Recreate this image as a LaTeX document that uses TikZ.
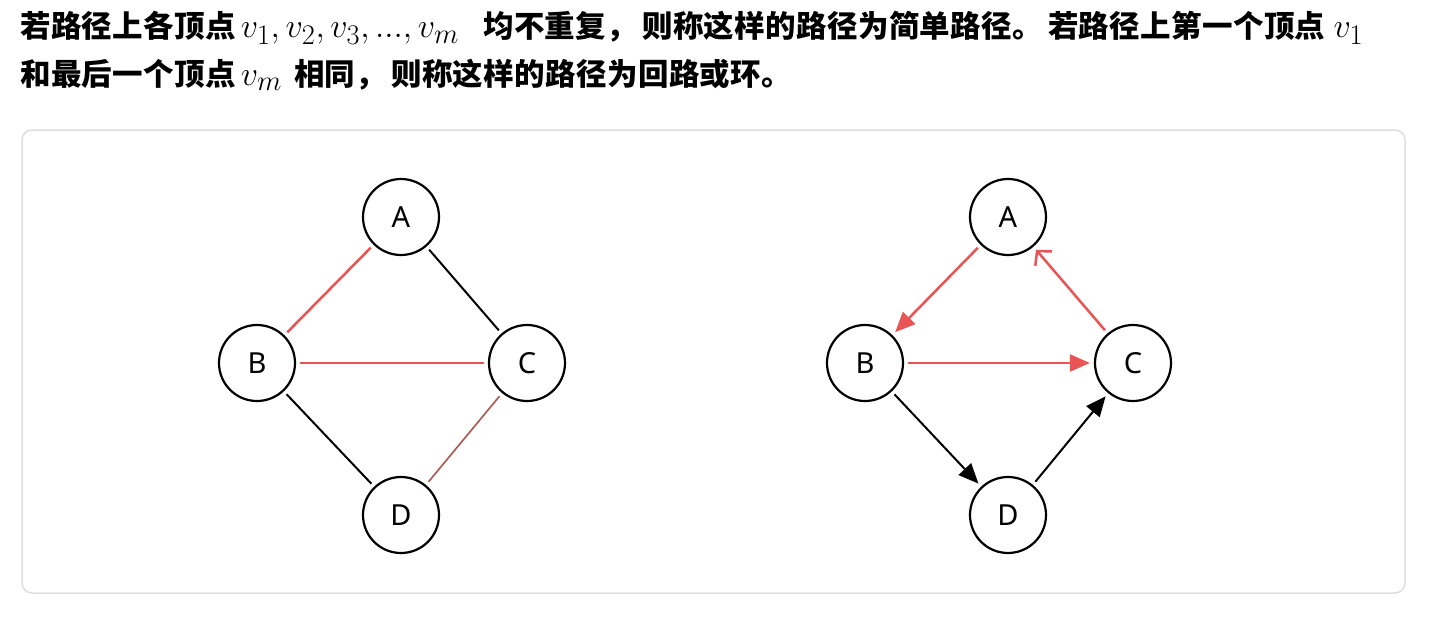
\documentclass[tikz,border=0pt]{standalone}
\usepackage{fontspec}
\setsansfont{Noto Sans}
\newfontfamily\cjk{Noto Sans CJK SC}[LetterSpace=1.2]
\usetikzlibrary{arrows.meta}
\definecolor{ered}{RGB}{233,84,84}
\definecolor{ebrown}{RGB}{170,95,85}
\definecolor{boxgray}{RGB}{222,222,222}
\newcommand{\mth}[1]{\scalebox{1.37}{$#1$}}
\newcommand{\pgap}{\hspace{5pt}}
\tikzset{
  vtx/.style={circle,draw=black,line width=2.2pt,minimum size=76pt,inner sep=0pt,font=\sffamily\fontsize{29}{29}\selectfont},
  redge/.style={draw=ered,line width=2.5pt,shorten <=4pt,shorten >=4pt},
  kedge/.style={draw=black,line width=2pt,shorten <=4pt,shorten >=4pt},
  tri/.style={-{Triangle[length=20pt,width=17pt]}},
  barb/.style={-{Straight Barb[length=10pt,width=22pt,line width=2.5pt]}},
  txt/.style={anchor=west,inner sep=0pt,font=\cjk\bfseries\fontsize{30.5}{34}\selectfont}
}
\begin{document}
\begin{tikzpicture}[x=1pt,y=-1pt]
\useasboundingbox (0,0) rectangle (1433,619);
\fill[white] (0,0) rectangle (1433,619);
% text
\node[txt] (l1) at (20,28) {若路径上各顶点\hspace{5pt}\mth{v_1,v_2,v_3,...,v_m}\hspace{24pt}均不重复，\pgap 则称这样的路径为简单路径。\pgap 若路径上第一个顶点\hspace{8pt}\mth{v_1}};
\node[txt] (l2) at (20,75) {和最后一个顶点\hspace{5pt}\mth{v_m}\hspace{12pt}相同，\pgap 则称这样的路径为回路或环。};
% box
\draw[boxgray,line width=1.5pt,rounded corners=10pt] (22,130) rectangle (1405,593);
% left graph
\node[vtx] (A1) at (401,217) {A};
\node[vtx] (B1) at (257,363) {B};
\node[vtx] (C1) at (527,363) {C};
\node[vtx] (D1) at (401,515) {D};
\draw[redge] (B1) -- (A1);
\draw[kedge] (A1) -- (C1);
\draw[redge] (B1) -- (C1);
\draw[kedge] (B1) -- (D1);
\draw[draw=ebrown,line width=1.7pt,shorten <=4pt,shorten >=4pt] (D1) -- (C1);
% right graph
\node[vtx] (A2) at (1008,217) {A};
\node[vtx] (B2) at (865,363) {B};
\node[vtx] (C2) at (1133,363) {C};
\node[vtx] (D2) at (1008,515) {D};
\draw[redge,tri] (A2) -- (B2);
\draw[redge,tri] (B2) -- (C2);
\draw[redge,barb] (C2) -- (A2);
\draw[kedge,tri] (B2) -- (D2);
\draw[kedge,tri] (D2) -- (C2);
\end{tikzpicture}
\end{document}
